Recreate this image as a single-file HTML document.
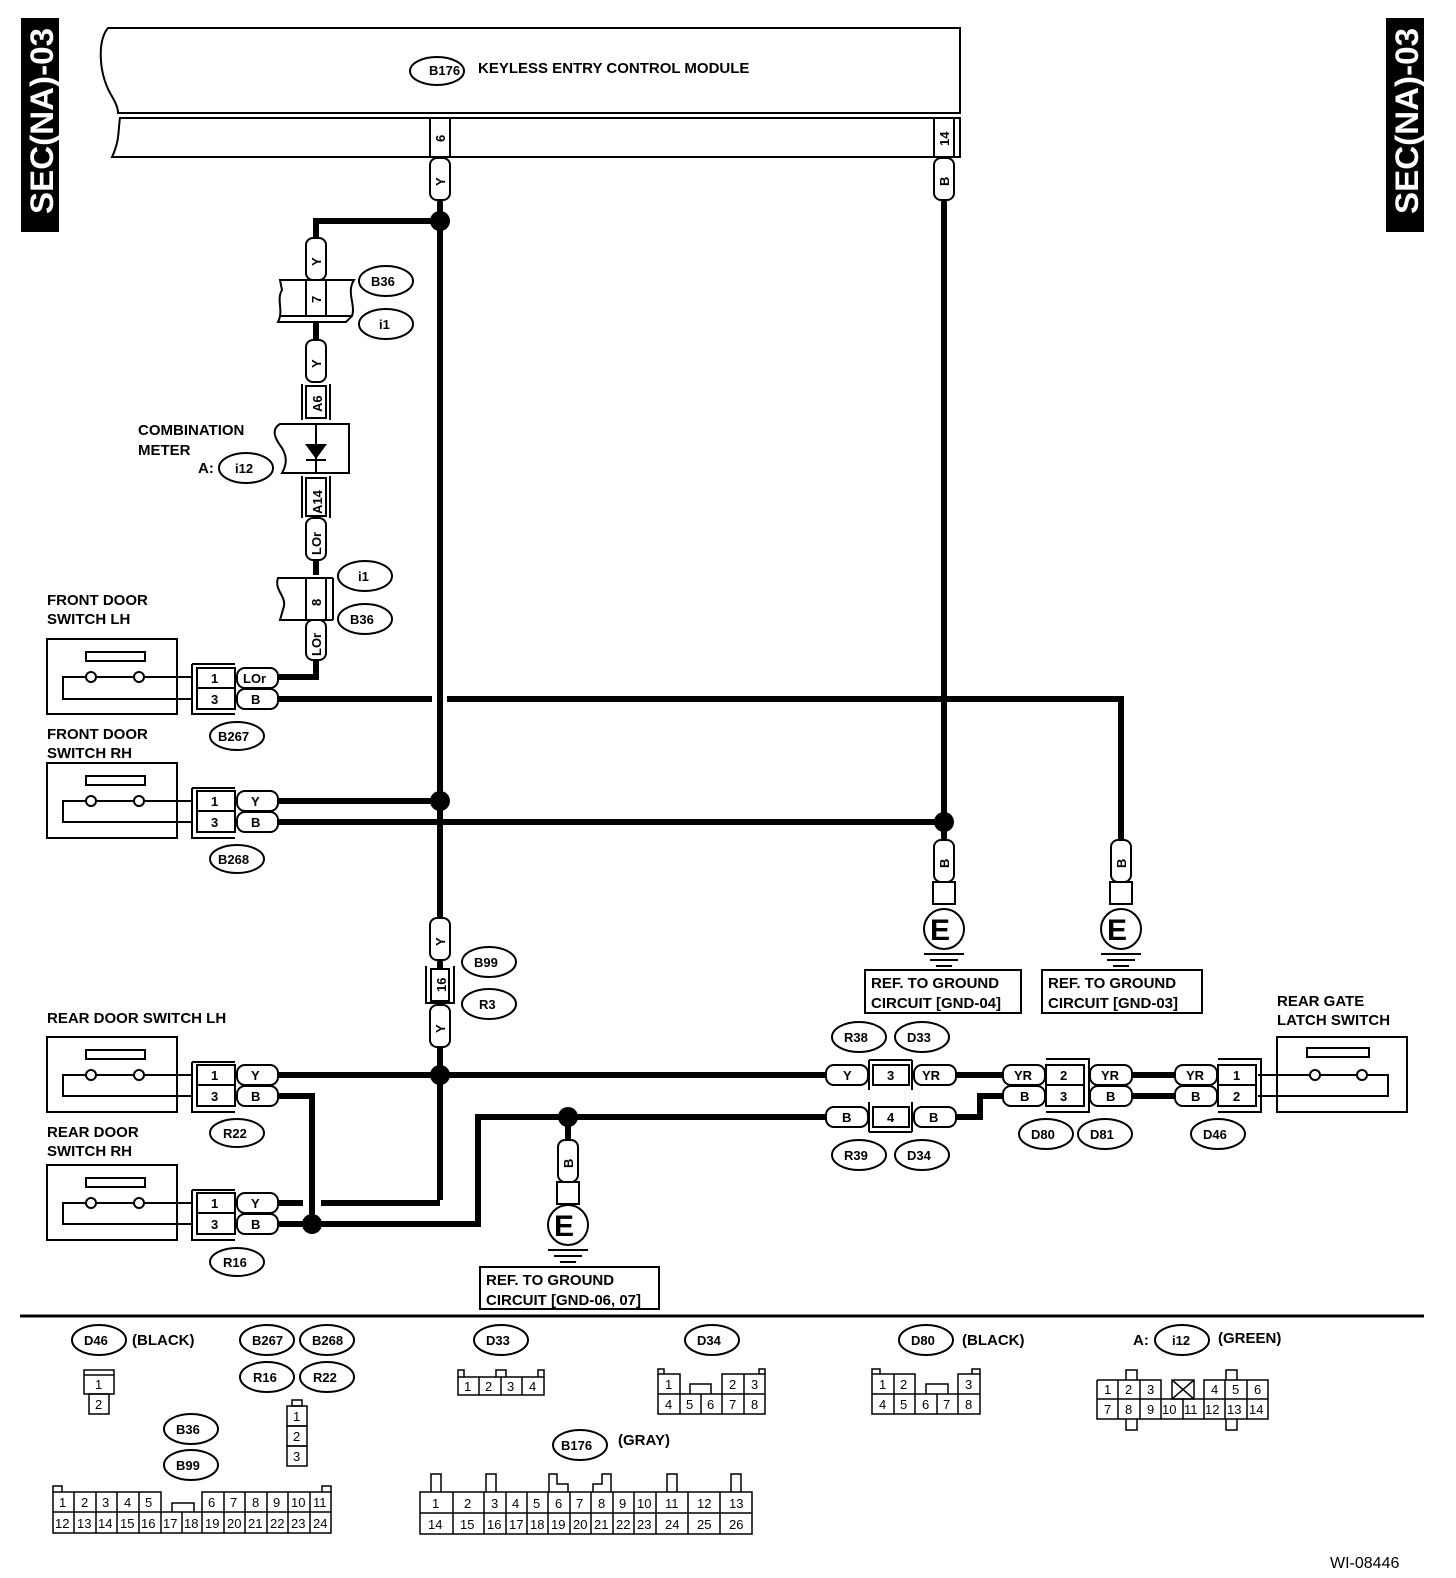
<!DOCTYPE html>
<html><head><meta charset="utf-8"><style>
html,body{margin:0;padding:0;background:#fff}
svg{display:block}
text{font-family:"Liberation Sans",sans-serif;font-weight:bold;fill:#000}
.t{font-size:15px}
.s{font-size:13px}
.n{font-size:13px;font-weight:normal}
</style></head><body>
<svg width="1456" height="1578" viewBox="0 0 1456 1578" xmlns="http://www.w3.org/2000/svg">
<!-- side labels -->
<rect x="21" y="18" width="38" height="214" fill="#000"/>
<text transform="translate(53,214) rotate(-90)" style="font-size:32px;fill:#fff" textLength="186" lengthAdjust="spacingAndGlyphs">SEC(NA)-03</text>
<rect x="1386" y="18" width="38" height="214" fill="#000"/>
<text transform="translate(1418,214) rotate(-90)" style="font-size:32px;fill:#fff" textLength="186" lengthAdjust="spacingAndGlyphs">SEC(NA)-03</text>

<g fill="none" stroke="#000" stroke-width="2">
<!-- module -->
<path d="M960,28 L108,28 C98,40 98,70 110,93 C116,103 118,108 118,113 L960,113 Z"/>
<path d="M960,118 L120,118 C118,130 120,140 112,157 L960,157 Z"/>
<rect x="430" y="118" width="20" height="39"/>
<rect x="934" y="118" width="20" height="39"/>
<ellipse cx="437" cy="71" rx="27" ry="14"/>
</g>
<text x="429" y="75" class="s">B176</text>
<text x="478" y="73" class="t">KEYLESS ENTRY CONTROL MODULE</text>
<text transform="translate(445,142) rotate(-90)" class="s">6</text>
<text transform="translate(949,146) rotate(-90)" class="s">14</text>

<!-- thick wires -->
<g fill="none" stroke="#000" stroke-width="6">
<path d="M440,200 V1200 M440,1203 H278"/>
<path d="M440,221 H316 V238"/>
<path d="M316,322 V340"/>
<path d="M316,560 V575"/>
<path d="M316,660 V677 H278"/>
<path d="M278,699 H432 M447,699 H1121 V840"/>
<path d="M278,801 H440"/>
<path d="M278,822 H944"/>
<path d="M944,200 V840"/>
<path d="M278,1075 H826"/>
<path d="M956,1075 H1003"/>
<path d="M1132,1075 H1175"/>
<path d="M278,1096 H312 V1224"/>
<path d="M278,1224 H478 V1117 H826"/>
<path d="M568,1117 V1140"/>
<path d="M956,1117 H980 V1096 H1003"/>
<path d="M1132,1096 H1175"/>
<path d="M440,1045 V1060"/>
</g>
<rect x="303" y="1198" width="18" height="10" fill="#fff"/>
<path d="M312,1190 V1224" stroke="#000" stroke-width="6"/>
<g fill="#000">
<circle cx="440" cy="221" r="10"/>
<circle cx="440" cy="801" r="10"/>
<circle cx="944" cy="822" r="10"/>
<circle cx="440" cy="1075" r="10"/>
<circle cx="568" cy="1117" r="10"/>
<circle cx="312" cy="1224" r="10"/>
</g>

<!-- vertical tags -->
<g fill="#fff" stroke="#000" stroke-width="2">
<rect x="430" y="158" width="20" height="42" rx="7"/>
<rect x="934" y="158" width="20" height="42" rx="7"/>
<rect x="306" y="238" width="20" height="42" rx="7"/>
<rect x="306" y="340" width="20" height="42" rx="7"/>
<rect x="306" y="518" width="20" height="42" rx="7"/>
<rect x="306" y="620" width="20" height="40" rx="7"/>
<rect x="934" y="840" width="20" height="42" rx="7"/>
<rect x="1111" y="840" width="20" height="42" rx="7"/>
<rect x="430" y="918" width="20" height="42" rx="7"/>
<rect x="430" y="1005" width="20" height="42" rx="7"/>
<rect x="558" y="1140" width="20" height="42" rx="7"/>
</g>
<g class="s">
<text transform="translate(445,186) rotate(-90)" class="s">Y</text>
<text transform="translate(949,186) rotate(-90)" class="s">B</text>
<text transform="translate(321,266) rotate(-90)" class="s">Y</text>
<text transform="translate(321,368) rotate(-90)" class="s">Y</text>
<text transform="translate(321,555) rotate(-90)" class="s">LOr</text>
<text transform="translate(321,656) rotate(-90)" class="s">LOr</text>
<text transform="translate(949,868) rotate(-90)" class="s">B</text>
<text transform="translate(1126,868) rotate(-90)" class="s">B</text>
<text transform="translate(445,946) rotate(-90)" class="s">Y</text>
<text transform="translate(445,1033) rotate(-90)" class="s">Y</text>
<text transform="translate(573,1168) rotate(-90)" class="s">B</text>
</g>

<!-- B36/i1 connector pin 7 -->
<g fill="none" stroke="#000" stroke-width="2">
<path d="M280,280 H354 C346,292 356,305 352,316 L346,322 H278 C284,310 276,300 282,290 Z" fill="#fff"/>
<line x1="280" y1="316" x2="352" y2="316"/>
<rect x="306" y="280" width="20" height="36"/>
<ellipse cx="386" cy="281" rx="27" ry="15"/>
<ellipse cx="386" cy="324" rx="27" ry="15"/>
<rect x="306" y="386" width="20" height="32"/>
<line x1="302" y1="384" x2="302" y2="420"/><line x1="330" y1="384" x2="330" y2="420"/>
<path d="M349,424 H280 C270,430 276,440 282,448 C288,458 286,466 282,473 H349 Z" fill="#fff"/>
<line x1="316" y1="424" x2="316" y2="473"/>
<line x1="306" y1="460" x2="326" y2="460"/>
<rect x="306" y="478" width="20" height="38"/>
<line x1="302" y1="476" x2="302" y2="518"/><line x1="330" y1="476" x2="330" y2="518"/>
<ellipse cx="246" cy="468" rx="27" ry="15"/>
<path d="M333,578 H278 C274,590 286,596 284,606 L280,620 H333" fill="#fff"/>
<line x1="333" y1="578" x2="333" y2="620"/>
<rect x="306" y="578" width="20" height="42"/>
<ellipse cx="365" cy="576" rx="27" ry="15"/>
<ellipse cx="365" cy="619" rx="27" ry="15"/>
</g>
<polygon points="305,444 327,444 316,459" fill="#000"/>
<text transform="translate(322,412) rotate(-90)" class="s">A6</text>
<text transform="translate(322,514) rotate(-90)" class="s">A14</text>
<text transform="translate(321,606) rotate(-90)" class="s">8</text>
<text transform="translate(321,303) rotate(-90)" class="s">7</text>
<text x="371" y="286" class="s">B36</text>
<text x="379" y="329" class="s">i1</text>
<text x="138" y="435" class="t">COMBINATION</text>
<text x="138" y="455" class="t">METER</text>
<text x="198" y="473" class="t">A:</text>
<text x="235" y="473" class="s">i12</text>
<text x="358" y="581" class="s">i1</text>
<text x="350" y="624" class="s">B36</text>

<g fill="none" stroke="#000" stroke-width="2">
<rect x="47" y="639" width="130" height="75"/><rect x="86" y="652" width="59" height="9"/>
<path d="M96,677 H134 M144,677 H192 M86,677 H63 V699 H192"/>
<circle cx="91" cy="677" r="5"/><circle cx="139" cy="677" r="5"/>
<path d="M192,664 H235 M192,664 V714 H235"/><rect x="197" y="668" width="38" height="41"/><line x1="197" y1="688" x2="235" y2="688"/>
<rect x="237" y="668" width="41" height="20" rx="8" fill="#fff"/><rect x="237" y="689" width="41" height="20" rx="8" fill="#fff"/>
<ellipse cx="237" cy="736" rx="27" ry="14"/>
<rect x="47" y="763" width="130" height="75"/><rect x="86" y="776" width="59" height="9"/>
<path d="M96,801 H134 M144,801 H192 M86,801 H63 V822 H192"/>
<circle cx="91" cy="801" r="5"/><circle cx="139" cy="801" r="5"/>
<path d="M192,788 H235 M192,788 V838 H235"/><rect x="197" y="791" width="38" height="41"/><line x1="197" y1="811" x2="235" y2="811"/>
<rect x="237" y="791" width="41" height="20" rx="8" fill="#fff"/><rect x="237" y="812" width="41" height="20" rx="8" fill="#fff"/>
<ellipse cx="237" cy="859" rx="27" ry="14"/>
<rect x="47" y="1037" width="130" height="75"/><rect x="86" y="1050" width="59" height="9"/>
<path d="M96,1075 H134 M144,1075 H192 M86,1075 H63 V1096 H192"/>
<circle cx="91" cy="1075" r="5"/><circle cx="139" cy="1075" r="5"/>
<path d="M192,1062 H235 M192,1062 V1112 H235"/><rect x="197" y="1065" width="38" height="41"/><line x1="197" y1="1085" x2="235" y2="1085"/>
<rect x="237" y="1065" width="41" height="20" rx="8" fill="#fff"/><rect x="237" y="1086" width="41" height="20" rx="8" fill="#fff"/>
<ellipse cx="237" cy="1133" rx="27" ry="14"/>
<rect x="47" y="1165" width="130" height="75"/><rect x="86" y="1178" width="59" height="9"/>
<path d="M96,1203 H134 M144,1203 H192 M86,1203 H63 V1224 H192"/>
<circle cx="91" cy="1203" r="5"/><circle cx="139" cy="1203" r="5"/>
<path d="M192,1190 H235 M192,1190 V1240 H235"/><rect x="197" y="1193" width="38" height="41"/><line x1="197" y1="1213" x2="235" y2="1213"/>
<rect x="237" y="1193" width="41" height="20" rx="8" fill="#fff"/><rect x="237" y="1214" width="41" height="20" rx="8" fill="#fff"/>
<ellipse cx="237" cy="1262" rx="27" ry="14"/>
<rect x="1277" y="1037" width="130" height="75"/><rect x="1307" y="1048" width="62" height="9"/>
<path d="M1258,1075 H1310 M1320,1075 H1357 M1367,1075 H1388 V1096 H1258"/>
<circle cx="1315" cy="1075" r="5"/><circle cx="1362" cy="1075" r="5"/>
</g>
<g class="s">
<text x="211" y="683" class="s">1</text><text x="211" y="704" class="s">3</text><text x="243" y="683" class="s">LOr</text><text x="251" y="704" class="s">B</text>
<text x="218" y="741" class="s">B267</text>
<text x="211" y="806" class="s">1</text><text x="211" y="827" class="s">3</text><text x="251" y="806" class="s">Y</text><text x="251" y="827" class="s">B</text>
<text x="218" y="864" class="s">B268</text>
<text x="211" y="1080" class="s">1</text><text x="211" y="1101" class="s">3</text><text x="251" y="1080" class="s">Y</text><text x="251" y="1101" class="s">B</text>
<text x="223" y="1138" class="s">R22</text>
<text x="211" y="1208" class="s">1</text><text x="211" y="1229" class="s">3</text><text x="251" y="1208" class="s">Y</text><text x="251" y="1229" class="s">B</text>
<text x="223" y="1267" class="s">R16</text>
</g>
<text x="47" y="605" class="t">FRONT DOOR</text><text x="47" y="624" class="t">SWITCH LH</text>
<text x="47" y="739" class="t">FRONT DOOR</text><text x="47" y="758" class="t">SWITCH RH</text>
<text x="47" y="1023" class="t">REAR DOOR SWITCH LH</text>
<text x="47" y="1137" class="t">REAR DOOR</text><text x="47" y="1156" class="t">SWITCH RH</text>
<text x="1277" y="1006" class="t">REAR GATE</text><text x="1277" y="1025" class="t">LATCH SWITCH</text>

<g fill="none" stroke="#000" stroke-width="2">
<path d="M426,966 V1003 H454 V966"/><rect x="431" y="969" width="18" height="32" fill="#fff"/>
<ellipse cx="489" cy="962" rx="27" ry="15"/><ellipse cx="489" cy="1004" rx="27" ry="15"/>
</g>
<text transform="translate(446,992) rotate(-90)" class="s">16</text>
<text x="474" y="967" class="s">B99</text><text x="479" y="1009" class="s">R3</text>

<g fill="none" stroke="#000" stroke-width="2">
<rect x="933" y="882" width="22" height="22"/><circle cx="944" cy="929" r="20" fill="#fff"/>
<line x1="924" y1="954" x2="964" y2="954"/><line x1="930" y1="960" x2="958" y2="960"/><line x1="936" y1="966" x2="952" y2="966"/>
<rect x="1110" y="882" width="22" height="22"/><circle cx="1121" cy="929" r="20" fill="#fff"/>
<line x1="1101" y1="954" x2="1141" y2="954"/><line x1="1107" y1="960" x2="1135" y2="960"/><line x1="1113" y1="966" x2="1129" y2="966"/>
<rect x="557" y="1182" width="22" height="22"/><circle cx="568" cy="1225" r="20" fill="#fff"/>
<line x1="548" y1="1250" x2="588" y2="1250"/><line x1="554" y1="1256" x2="582" y2="1256"/><line x1="560" y1="1262" x2="576" y2="1262"/>
<rect x="865" y="970" width="156" height="43"/><rect x="1042" y="970" width="160" height="43"/><rect x="480" y="1267" width="179" height="42"/>
</g>
<text x="930" y="940" style="font-size:30px">E</text>
<text x="1107" y="940" style="font-size:30px">E</text>
<text x="554" y="1236" style="font-size:30px">E</text>
<text x="871" y="988" class="t">REF. TO GROUND</text><text x="871" y="1008" class="t">CIRCUIT [GND-04]</text>
<text x="1048" y="988" class="t">REF. TO GROUND</text><text x="1048" y="1008" class="t">CIRCUIT [GND-03]</text>
<text x="486" y="1285" class="t">REF. TO GROUND</text><text x="486" y="1305" class="t">CIRCUIT [GND-06, 07]</text>

<g fill="none" stroke="#000" stroke-width="2">
<rect x="826" y="1065" width="42" height="20" rx="8" fill="#fff"/><rect x="914" y="1065" width="42" height="20" rx="8" fill="#fff"/>
<path d="M869,1060 H912 M869,1060 V1090 M912,1060 V1090"/><rect x="873" y="1065" width="36" height="20"/>
<rect x="826" y="1107" width="42" height="20" rx="8" fill="#fff"/><rect x="914" y="1107" width="42" height="20" rx="8" fill="#fff"/>
<path d="M869,1132 H912 M869,1132 V1102 M912,1132 V1102"/><rect x="873" y="1107" width="36" height="20"/>
<rect x="1003" y="1065" width="42" height="20" rx="8" fill="#fff"/><rect x="1003" y="1086" width="42" height="20" rx="8" fill="#fff"/>
<rect x="1046" y="1065" width="38" height="41"/><line x1="1046" y1="1085" x2="1084" y2="1085"/>
<path d="M1046,1059 H1089 V1112 H1046"/>
<rect x="1090" y="1065" width="42" height="20" rx="8" fill="#fff"/><rect x="1090" y="1086" width="42" height="20" rx="8" fill="#fff"/>
<rect x="1175" y="1065" width="42" height="20" rx="8" fill="#fff"/><rect x="1175" y="1086" width="42" height="20" rx="8" fill="#fff"/>
<rect x="1218" y="1065" width="38" height="41"/><line x1="1218" y1="1085" x2="1256" y2="1085"/>
<path d="M1218,1059 H1261 V1112 H1218"/>
<ellipse cx="859" cy="1037" rx="27" ry="15"/><ellipse cx="922" cy="1037" rx="27" ry="15"/>
<ellipse cx="859" cy="1155" rx="27" ry="15"/><ellipse cx="922" cy="1155" rx="27" ry="15"/>
<ellipse cx="1046" cy="1134" rx="27" ry="15"/><ellipse cx="1105" cy="1134" rx="27" ry="15"/>
<ellipse cx="1218" cy="1134" rx="27" ry="15"/>
</g>
<g>
<text x="843" y="1080" class="s">Y</text><text x="887" y="1080" class="s">3</text><text x="922" y="1080" class="s">YR</text>
<text x="842" y="1122" class="s">B</text><text x="887" y="1122" class="s">4</text><text x="929" y="1122" class="s">B</text>
<text x="1014" y="1080" class="s">YR</text><text x="1020" y="1101" class="s">B</text>
<text x="1060" y="1080" class="s">2</text><text x="1060" y="1101" class="s">3</text>
<text x="1101" y="1080" class="s">YR</text><text x="1106" y="1101" class="s">B</text>
<text x="1186" y="1080" class="s">YR</text><text x="1191" y="1101" class="s">B</text>
<text x="1233" y="1080" class="s">1</text><text x="1233" y="1101" class="s">2</text>
<text x="844" y="1042" class="s">R38</text><text x="907" y="1042" class="s">D33</text>
<text x="844" y="1160" class="s">R39</text><text x="907" y="1160" class="s">D34</text>
<text x="1031" y="1139" class="s">D80</text><text x="1090" y="1139" class="s">D81</text><text x="1203" y="1139" class="s">D46</text>
</g>

<line x1="20" y1="1316" x2="1424" y2="1316" stroke="#000" stroke-width="3"/>

<g fill="none" stroke="#000" stroke-width="2">
<ellipse cx="99" cy="1340" rx="27" ry="15"/>
<ellipse cx="267" cy="1340" rx="27" ry="15"/><ellipse cx="327" cy="1340" rx="27" ry="15"/>
<ellipse cx="267" cy="1377" rx="27" ry="15"/><ellipse cx="327" cy="1377" rx="27" ry="15"/>
<ellipse cx="191" cy="1429" rx="27" ry="15"/><ellipse cx="191" cy="1465" rx="27" ry="15"/>
<ellipse cx="501" cy="1340" rx="27" ry="15"/><ellipse cx="712" cy="1340" rx="27" ry="15"/>
<ellipse cx="580" cy="1445" rx="27" ry="15"/><ellipse cx="926" cy="1340" rx="27" ry="15"/>
<ellipse cx="1182" cy="1340" rx="27" ry="15"/>
</g>
<g stroke="#000" stroke-width="1.5" fill="none">
<rect x="84" y="1370" width="30" height="24"/><line x1="84" y1="1375" x2="114" y2="1375"/><rect x="89" y="1394" width="20" height="20"/>
<rect x="292" y="1400" width="10" height="6"/><rect x="287" y="1406" width="20" height="20"/><rect x="287" y="1426" width="20" height="20"/><rect x="287" y="1446" width="20" height="20"/>
<path d="M458,1377 V1370 H464 V1377 M496,1377 V1370 H506 V1377 M538,1377 V1370 H544 V1377"/>
<rect x="458" y="1377" width="86" height="18"/><line x1="479" y1="1377" x2="479" y2="1395"/><line x1="501" y1="1377" x2="501" y2="1395"/><line x1="522" y1="1377" x2="522" y2="1395"/>
<path d="M658,1374 V1369 H664 V1374 M759,1374 V1369 H765 V1374"/>
<path d="M658,1374 H680 V1394 M658,1374 V1414 H765 V1374 H722 V1394 M658,1394 H765 M690,1394 V1384 H711 V1394"/>
<line x1="680" y1="1394" x2="680" y2="1414"/><line x1="701" y1="1394" x2="701" y2="1414"/><line x1="722" y1="1394" x2="722" y2="1414"/><line x1="744" y1="1374" x2="744" y2="1414"/>
<path d="M872,1374 V1369 H880 V1374 M972,1374 V1369 H980 V1374"/>
<path d="M872,1374 H915 V1394 M872,1374 V1414 H980 V1374 H958 V1394 M872,1394 H980 M926,1394 V1384 H948 V1394"/>
<line x1="894" y1="1374" x2="894" y2="1414"/><line x1="915" y1="1394" x2="915" y2="1414"/><line x1="937" y1="1394" x2="937" y2="1414"/><line x1="958" y1="1394" x2="958" y2="1414"/>
<path d="M1097,1380 H1161 V1399 M1097,1380 V1419 H1268 V1380 H1204 V1399 M1097,1399 H1268"/>
<rect x="1172" y="1380" width="22" height="19"/><path d="M1172,1380 L1194,1399 M1194,1380 L1172,1399"/>
<path d="M1126,1380 V1370 H1137 V1380 M1226,1380 V1370 H1237 V1380 M1126,1419 V1430 H1137 V1419 M1226,1419 V1430 H1237 V1419"/>
<line x1="1118" y1="1380" x2="1118" y2="1419"/><line x1="1140" y1="1380" x2="1140" y2="1419"/><line x1="1225" y1="1380" x2="1225" y2="1419"/><line x1="1247" y1="1380" x2="1247" y2="1419"/>
<line x1="1161" y1="1399" x2="1161" y2="1419"/><line x1="1183" y1="1399" x2="1183" y2="1419"/><line x1="1204" y1="1399" x2="1204" y2="1419"/>
<path d="M53,1492 V1486 H62 V1492 M322,1492 V1486 H331 V1492"/>
<path d="M53,1492 H161 V1512 M53,1492 V1533 H331 V1492 H202 V1512 M53,1512 H331 M172,1512 V1503 H194 V1512"/>
<line x1="74" y1="1492" x2="74" y2="1533"/><line x1="96" y1="1492" x2="96" y2="1533"/><line x1="117" y1="1492" x2="117" y2="1533"/><line x1="139" y1="1492" x2="139" y2="1533"/>
<line x1="161" y1="1512" x2="161" y2="1533"/><line x1="182" y1="1512" x2="182" y2="1533"/>
<line x1="224" y1="1492" x2="224" y2="1533"/><line x1="245" y1="1492" x2="245" y2="1533"/><line x1="267" y1="1492" x2="267" y2="1533"/><line x1="288" y1="1492" x2="288" y2="1533"/><line x1="310" y1="1492" x2="310" y2="1533"/>
<line x1="202" y1="1512" x2="202" y2="1533"/>
<rect x="420" y="1492" width="332" height="42"/><line x1="420" y1="1513" x2="752" y2="1513"/>
<line x1="453" y1="1492" x2="453" y2="1534"/><line x1="484" y1="1492" x2="484" y2="1534"/><line x1="506" y1="1492" x2="506" y2="1534"/><line x1="527" y1="1492" x2="527" y2="1534"/><line x1="548" y1="1492" x2="548" y2="1534"/><line x1="570" y1="1492" x2="570" y2="1534"/><line x1="591" y1="1492" x2="591" y2="1534"/><line x1="613" y1="1492" x2="613" y2="1534"/><line x1="634" y1="1492" x2="634" y2="1534"/><line x1="656" y1="1492" x2="656" y2="1534"/><line x1="688" y1="1492" x2="688" y2="1534"/><line x1="720" y1="1492" x2="720" y2="1534"/>
<path d="M431,1492 V1474 H441 V1492 M486,1492 V1474 H496 V1492 M549,1492 V1474 H557 V1484 H568 V1492 M593,1492 V1484 H602 V1474 H611 V1492 M667,1492 V1474 H677 V1492 M731,1492 V1474 H741 V1492"/>
</g>
<g class="n">
<text x="84" y="1345" class="s">D46</text><text x="132" y="1345" class="t">(BLACK)</text>
<text x="252" y="1345" class="s">B267</text><text x="312" y="1345" class="s">B268</text>
<text x="253" y="1382" class="s">R16</text><text x="313" y="1382" class="s">R22</text>
<text x="176" y="1434" class="s">B36</text><text x="176" y="1470" class="s">B99</text>
<text x="486" y="1345" class="s">D33</text><text x="697" y="1345" class="s">D34</text>
<text x="561" y="1450" class="s">B176</text><text x="618" y="1445" class="t">(GRAY)</text>
<text x="911" y="1345" class="s">D80</text><text x="962" y="1345" class="t">(BLACK)</text>
<text x="1133" y="1345" class="t">A:</text><text x="1172" y="1345" class="s">i12</text><text x="1218" y="1343" class="t">(GREEN)</text>
<text x="95" y="1389" class="n">1</text><text x="95" y="1409" class="n">2</text>
<text x="293" y="1421" class="n">1</text><text x="293" y="1441" class="n">2</text><text x="293" y="1461" class="n">3</text>
<text x="464" y="1391" class="n">1</text><text x="485" y="1391" class="n">2</text><text x="507" y="1391" class="n">3</text><text x="529" y="1391" class="n">4</text>
<text x="665" y="1389" class="n">1</text><text x="729" y="1389" class="n">2</text><text x="751" y="1389" class="n">3</text>
<text x="665" y="1409" class="n">4</text><text x="686" y="1409" class="n">5</text><text x="707" y="1409" class="n">6</text><text x="729" y="1409" class="n">7</text><text x="751" y="1409" class="n">8</text>
<text x="879" y="1389" class="n">1</text><text x="900" y="1389" class="n">2</text><text x="965" y="1389" class="n">3</text>
<text x="879" y="1409" class="n">4</text><text x="900" y="1409" class="n">5</text><text x="922" y="1409" class="n">6</text><text x="943" y="1409" class="n">7</text><text x="965" y="1409" class="n">8</text>
<text x="1104" y="1394" class="n">1</text><text x="1125" y="1394" class="n">2</text><text x="1147" y="1394" class="n">3</text><text x="1211" y="1394" class="n">4</text><text x="1232" y="1394" class="n">5</text><text x="1254" y="1394" class="n">6</text>
<text x="1104" y="1414" class="n">7</text><text x="1125" y="1414" class="n">8</text><text x="1147" y="1414" class="n">9</text><text x="1162" y="1414" class="n">10</text><text x="1184" y="1414" class="n">11</text><text x="1205" y="1414" class="n">12</text><text x="1227" y="1414" class="n">13</text><text x="1249" y="1414" class="n">14</text>
<text x="59" y="1507" class="n">1</text><text x="81" y="1507" class="n">2</text><text x="102" y="1507" class="n">3</text><text x="124" y="1507" class="n">4</text><text x="145" y="1507" class="n">5</text>
<text x="208" y="1507" class="n">6</text><text x="230" y="1507" class="n">7</text><text x="252" y="1507" class="n">8</text><text x="273" y="1507" class="n">9</text><text x="291" y="1507" class="n">10</text><text x="313" y="1507" class="n">11</text>
<text x="55" y="1528" class="n">12</text><text x="77" y="1528" class="n">13</text><text x="98" y="1528" class="n">14</text><text x="120" y="1528" class="n">15</text><text x="141" y="1528" class="n">16</text><text x="163" y="1528" class="n">17</text><text x="184" y="1528" class="n">18</text><text x="205" y="1528" class="n">19</text><text x="227" y="1528" class="n">20</text><text x="248" y="1528" class="n">21</text><text x="270" y="1528" class="n">22</text><text x="291" y="1528" class="n">23</text><text x="313" y="1528" class="n">24</text>
<text x="432" y="1508" class="n">1</text><text x="464" y="1508" class="n">2</text><text x="491" y="1508" class="n">3</text><text x="512" y="1508" class="n">4</text><text x="533" y="1508" class="n">5</text><text x="555" y="1508" class="n">6</text><text x="576" y="1508" class="n">7</text><text x="598" y="1508" class="n">8</text><text x="619" y="1508" class="n">9</text><text x="637" y="1508" class="n">10</text><text x="665" y="1508" class="n">11</text><text x="697" y="1508" class="n">12</text><text x="729" y="1508" class="n">13</text>
<text x="428" y="1529" class="n">14</text><text x="460" y="1529" class="n">15</text><text x="487" y="1529" class="n">16</text><text x="509" y="1529" class="n">17</text><text x="530" y="1529" class="n">18</text><text x="551" y="1529" class="n">19</text><text x="573" y="1529" class="n">20</text><text x="594" y="1529" class="n">21</text><text x="616" y="1529" class="n">22</text><text x="637" y="1529" class="n">23</text><text x="665" y="1529" class="n">24</text><text x="697" y="1529" class="n">25</text><text x="729" y="1529" class="n">26</text>
</g>
<text x="1330" y="1568" style="font-size:16px;font-weight:normal">WI-08446</text>
</svg>
</body></html>
